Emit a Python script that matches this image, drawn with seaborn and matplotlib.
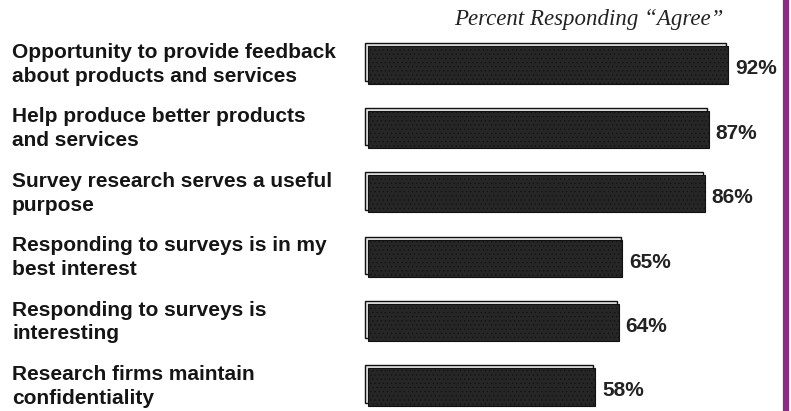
import matplotlib
matplotlib.use("Agg")
import matplotlib.pyplot as plt
import matplotlib.transforms as mtrans
import seaborn as sns
import pandas as pd

categories = [
    "Opportunity to provide feedback\nabout products and services",
    "Help produce better products\nand services",
    "Survey research serves a useful\npurpose",
    "Responding to surveys is in my\nbest interest",
    "Responding to surveys is\ninteresting",
    "Research firms maintain\nconfidentiality",
]
values = [92, 87, 86, 65, 64, 58]
value_labels = ["92%", "87%", "86%", "65%", "64%", "58%"]
title = "Percent Responding \u201cAgree\u201d"

df = pd.DataFrame({"cat": categories, "val": values})

sns.set_theme(style="white")
plt.rcParams["font.family"] = ["Liberation Sans", "DejaVu Sans"]
plt.rcParams["hatch.color"] = "#505050"
plt.rcParams["hatch.linewidth"] = 0.4

fig = plt.figure(figsize=(7.91, 4.11), dpi=100)
fig.patch.set_facecolor("white")
ax = fig.add_axes([362 / 791, 0, 421 / 791, 1])
ax.set_facecolor("none")

# back plate (bevel highlight)
for i, v in enumerate(values):
    ax.barh(i - 0.045, v + 0.4, left=-0.85, height=0.58, color="#e2e2e2",
            edgecolor="#111111", linewidth=1.0, zorder=1)

sns.barplot(data=df, x="val", y="cat", orient="h", color="#262626",
            width=0.58, saturation=1, ax=ax, zorder=2,
            edgecolor="#111111", linewidth=0.8, hatch="....")

ax.set_xlim(-1.533, 106)
ax.set_ylim(5.373, -1.009)
ax.set_xlabel("")
ax.set_ylabel("")
ax.set_xticks([])
ax.set_yticks([])
for s in ax.spines.values():
    s.set_visible(False)

trans = mtrans.blended_transform_factory(fig.transFigure, ax.transData)
for i, c in enumerate(categories):
    ax.text(12 / 791, i - 0.01, c, transform=trans, ha="left", va="center",
            fontsize=15, fontweight="bold", color="#151515",
            linespacing=1.32, clip_on=False)

for i, (v, lab) in enumerate(zip(values, value_labels)):
    ax.text(v + 1.8, i + 0.06, lab, ha="left", va="center", fontsize=15,
            fontweight="bold", color="#222222", clip_on=False)

fig.text(589 / 791, 1 - 20 / 411, title, ha="center", va="center",
         fontsize=16.5, fontstyle="italic", family=["Liberation Serif", "DejaVu Serif"],
         color="#222222")

# purple rule on the right edge
fig.add_artist(plt.Line2D([785.5 / 791, 785.5 / 791], [0, 1],
                          transform=fig.transFigure, color="#8a2a86", linewidth=4.5))

fig.savefig("out.png", dpi=100, facecolor="white")
